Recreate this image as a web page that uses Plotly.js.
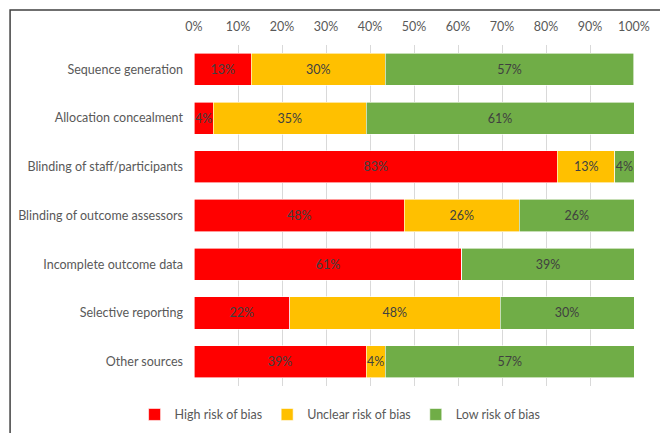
<!DOCTYPE html>
<html>
<head>
<meta charset="utf-8">
<script src="https://cdn.plot.ly/plotly-3.0.1.min.js"></script>
<style>html,body{margin:0;padding:0;background:#fff;}#chart{width:660px;height:433px;}</style>
</head>
<body>
<div id="chart"></div>
<script>
const categories = ["Sequence generation","Allocation concealment","Blinding of staff/participants","Blinding of outcome assessors","Incomplete outcome data","Selective reporting","Other sources"];
const highRisk = [13.04, 4.35, 82.61, 47.83, 60.87, 21.74, 39.13];
const unclearRisk = [30.43, 34.78, 13.04, 26.09, 0, 47.83, 4.35];
const lowRisk = [56.52, 60.87, 4.35, 26.09, 39.13, 30.43, 56.52];
const seriesNames = ["High risk of bias","Unclear risk of bias","Low risk of bias"];
const tickVals = [0,10,20,30,40,50,60,70,80,90,100];
const tickText = ["0%","10%","20%","30%","40%","50%","60%","70%","80%","90%","100%"];

const colors = ["#FF0000","#FFC000","#70AD47"];
const series = [highRisk, unclearRisk, lowRisk];
const font = "Lato, 'Open Sans', sans-serif";

const traces = series.map((vals, i) => ({
  type: 'bar',
  orientation: 'h',
  name: seriesNames[i],
  y: categories,
  x: vals,
  text: vals.map(v => v > 0 ? Math.round(v) + '%' : ''),
  textposition: 'inside',
  insidetextanchor: 'middle',
  textangle: 0,
  textfont: {color: '#404040', size: 12.5, family: font},
  marker: {color: colors[i], line: {color: '#ffffff', width: 0.6}},
  hoverinfo: 'none'
}));

const layout = {
  width: 660, height: 433,
  margin: {l: 194, r: 26, t: 45, b: 47, autoexpand: false},
  barmode: 'stack',
  bargap: 0.34,
  paper_bgcolor: '#ffffff',
  plot_bgcolor: '#ffffff',
  font: {family: font, size: 12.5, color: '#595959'},
  uniformtext: {mode: 'show', minsize: 12.5},
  showlegend: true,
  legend: {orientation: 'h', x: 0.332, xanchor: 'center', yref: 'container', y: 0.042, yanchor: 'middle',
           itemwidth: 30, font: {size: 12.5, color: '#595959', family: font}, traceorder: 'normal'},
  xaxis: {
    side: 'top', range: [0, 100], tickvals: tickVals, ticktext: tickText,
    showgrid: true, gridcolor: '#d9d9d9', gridwidth: 1, zeroline: false,
    showline: false, ticks: '', ticklabelstandoff: 11,
    tickfont: {size: 12.5, color: '#595959', family: font}, fixedrange: true
  },
  yaxis: {
    autorange: 'reversed', showgrid: false, zeroline: false, showline: false,
    ticks: '', ticklabelstandoff: 10,
    tickfont: {size: 12.5, color: '#595959', family: font}, fixedrange: true
  },
  shapes: [{
    type: 'rect', xref: 'paper', yref: 'paper',
    x0: -0.418, x1: 2, y0: -1, y1: 1.1026,
    line: {color: '#404040', width: 1.5}, fillcolor: 'rgba(0,0,0,0)', layer: 'below'
  }]
};

Plotly.newPlot('chart', traces, layout, {displayModeBar: false, staticPlot: true});
</script>
</body>
</html>
